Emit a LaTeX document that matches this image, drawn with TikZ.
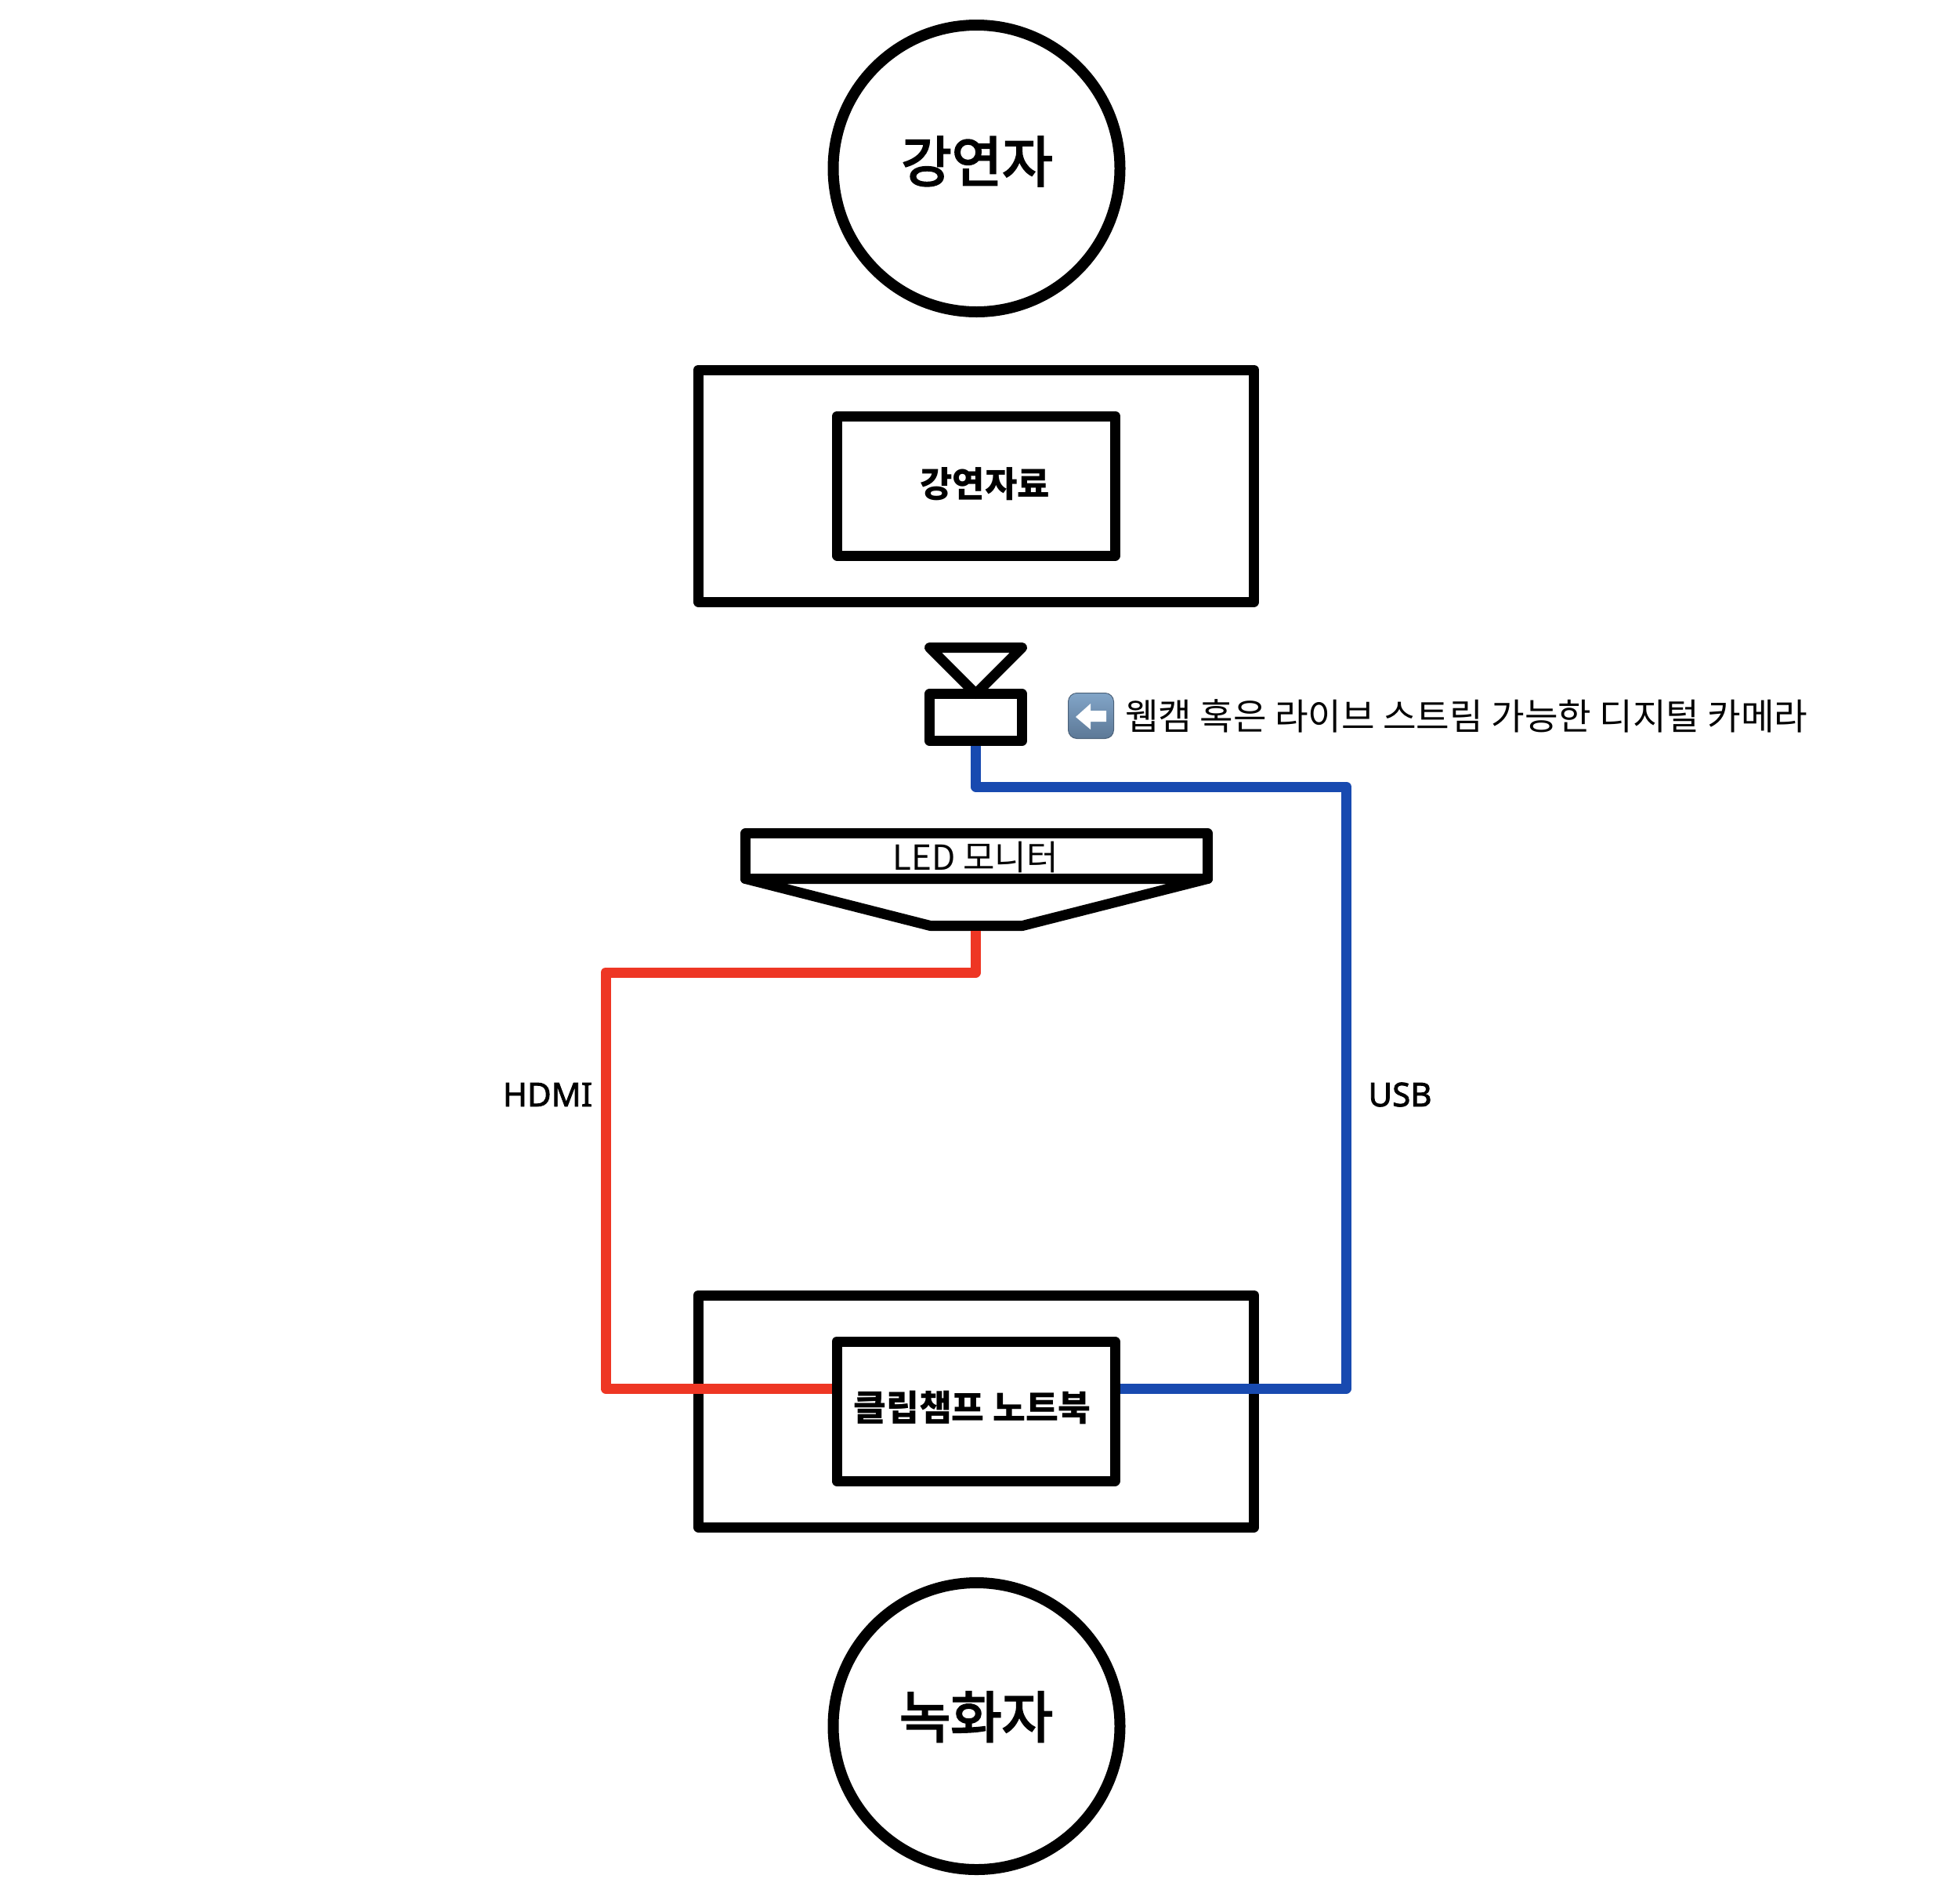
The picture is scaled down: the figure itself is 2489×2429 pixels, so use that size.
\documentclass[tikz,border=0pt]{standalone}
\usepackage{fontspec}
\setmainfont{Noto Sans CJK KR}
\newfontfamily\krmedium[FakeBold=3.2]{Noto Sans CJK KR}
\newfontfamily\latinf[FakeBold=2]{Noto Sans}
\definecolor{redline}{RGB}{238,54,36}
\definecolor{blueline}{RGB}{24,74,176}
\definecolor{icontop}{RGB}{130,165,200}
\definecolor{iconbot}{RGB}{92,120,150}
\tikzset{
  person/.style={draw=black,fill=white,circle,line width=14pt,minimum size=366pt,inner sep=0pt,outer sep=0pt},
  box/.style={draw=black,fill=white,rectangle,line width=13pt,line join=round,inner sep=0pt,outer sep=6.5pt},
  shapeline/.style={draw=black,fill=white,line width=13pt,line join=round},
  cable/.style={line width=13pt,line join=round,line cap=butt},
  caption/.style={inner sep=0pt,outer sep=0pt,text=black,anchor=center}
}
\begin{document}
\begin{tikzpicture}[x=1pt,y=-1pt]
\useasboundingbox[fill=white] (0,0) rectangle (2489,2429);
% people
\node[person] (speaker) at (1246.5,215) {};
\node[person] (recorder) at (1246.5,2203) {};
\node[caption,font=\krmedium\fontsize{70}{80}\selectfont] (speakerlabel) at (1247,206) {강연자};
\node[caption,font=\krmedium\fontsize{71}{80}\selectfont] (recorderlabel) at (1246,2191) {녹화자};
% screen with slides
\node[box,minimum width=709.5pt,minimum height=296pt] (screen) at (1246,620) {};
\node[box,minimum width=355pt,minimum height=178pt] (slides) at (1246,620) {};
\node[caption,font=\bfseries\fontsize{45}{54}\selectfont] (slideslabel) at (1257,618) {강연자료};
% desk with laptop
\node[box,minimum width=709.5pt,minimum height=296pt] (desk) at (1246,1801) {};
\node[box,minimum width=355pt,minimum height=178pt] (laptop) at (1245.5,1801) {};
\node[caption,font=\bfseries\fontsize{45.5}{54}\selectfont] (laptoplabel) at (1241,1796) {클립챔프 노트북};
% camera
\node[box,minimum width=118pt,minimum height=60pt] (camera) at (1245.5,915.5) {};
\path[shapeline] (1186.5,826.5) -- (1304.5,826.5) -- (1245.5,885.5) -- cycle;
% monitor
\path[shapeline] (951.5,1121.5) -- (1187.5,1181.5) -- (1305,1181.5) -- (1541.5,1121.5) -- cycle;
\node[box,minimum width=590pt,minimum height=58pt] (monitor) at (1246.5,1092.5) {};
\node[caption,font=\fontsize{44}{52}\selectfont] (monitorlabel) at (1245,1094) {LED 모니터};
\coordinate (monitorbase) at (1245.5,1188);
% cables
\coordinate (redA) at (1245.5,1241);
\coordinate (redB) at (773,1241);
\coordinate (redC) at (773,1772);
\draw[cable,redline] (monitorbase) -- (redA) -- (redB) -- (redC) -- (laptop.west |- redC);
\coordinate (blueA) at (1245.5,1004);
\coordinate (blueB) at (1718.5,1004);
\coordinate (blueC) at (1718.5,1772);
\draw[cable,blueline] (camera.south) -- (blueA) -- (blueB) -- (blueC) -- (laptop.east |- blueC);
\node[caption,font=\latinf\fontsize{42}{50}\selectfont] (hdmi) at (699,1397) {HDMI};
\node[caption,font=\latinf\fontsize{42}{50}\selectfont] (usb) at (1787,1397) {USB};
% arrow icon and camera note
\path[rounded corners=11pt,top color=icontop,bottom color=iconbot,draw=iconbot!80!black,line width=1pt] (1363.5,884.5) rectangle (1421.5,942.5);
\path[fill=white] (1373,915) -- (1392,898) -- (1392,907) -- (1412,907) -- (1412,921) -- (1392,921) -- (1392,931) -- cycle;
\node[caption,anchor=west,font=\fontsize{46.3}{54}\selectfont] (note) at (1436,914) {웹캠 혹은 라이브 스트림 가능한 디지털 카메라};
\end{tikzpicture}
\end{document}
